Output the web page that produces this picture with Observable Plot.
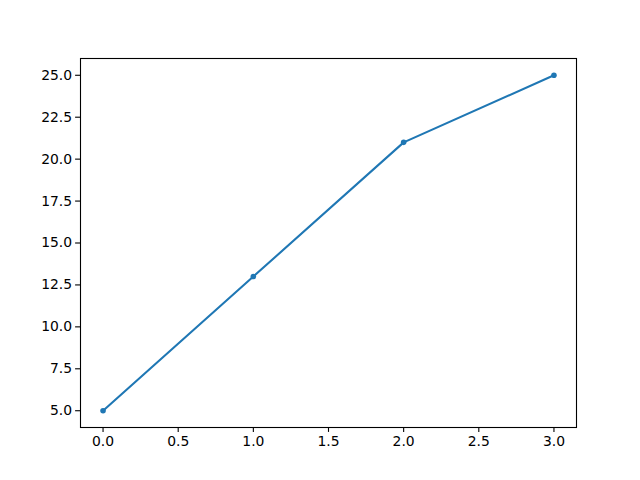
<!DOCTYPE html>
<html>
<head>
<meta charset="utf-8">
<script src="https://cdn.jsdelivr.net/npm/d3@7"></script>
<script src="https://cdn.jsdelivr.net/npm/@observablehq/plot@0.6"></script>
<style>
  html, body { margin: 0; padding: 0; background: #fff; }
</style>
</head>
<body>
<div id="chart"></div>
<script>
const xValues = [0, 1, 2, 3];
const yValues = [5, 13, 21, 25];
const xTicks = [0, 0.5, 1, 1.5, 2, 2.5, 3];
const yTicks = [5, 7.5, 10, 12.5, 15, 17.5, 20, 22.5, 25];

const data = xValues.map((x, i) => ({x, y: yValues[i]}));

const chart = Plot.plot({
  width: 640,
  height: 480,
  marginLeft: 80,
  marginRight: 64,
  marginTop: 58,
  marginBottom: 53,
  style: {fontFamily: "DejaVu Sans", fontSize: "13.9px", background: "#fff", color: "#000"},
  x: {domain: [-0.15, 3.15]},
  y: {domain: [4, 26]},
  marks: [
    Plot.frame({stroke: "#000", strokeWidth: 1.1}),
    Plot.axisX({ticks: xTicks, tickFormat: d3.format(".1f"), tickSize: 4.9, tickPadding: 3.5, strokeWidth: 1.1, label: null, fontSize: 13.9}),
    Plot.axisY({ticks: yTicks, tickFormat: d3.format(".1f"), tickSize: 4.9, tickPadding: 3.5, strokeWidth: 1.1, label: null, fontSize: 13.9}),
    Plot.line(data, {x: "x", y: "y", stroke: "#1f77b4", strokeWidth: 2.08}),
    Plot.dot(data, {x: "x", y: "y", fill: "#1f77b4", r: 2.8, stroke: null})
  ]
});
document.getElementById("chart").appendChild(chart);
</script>
</body>
</html>
